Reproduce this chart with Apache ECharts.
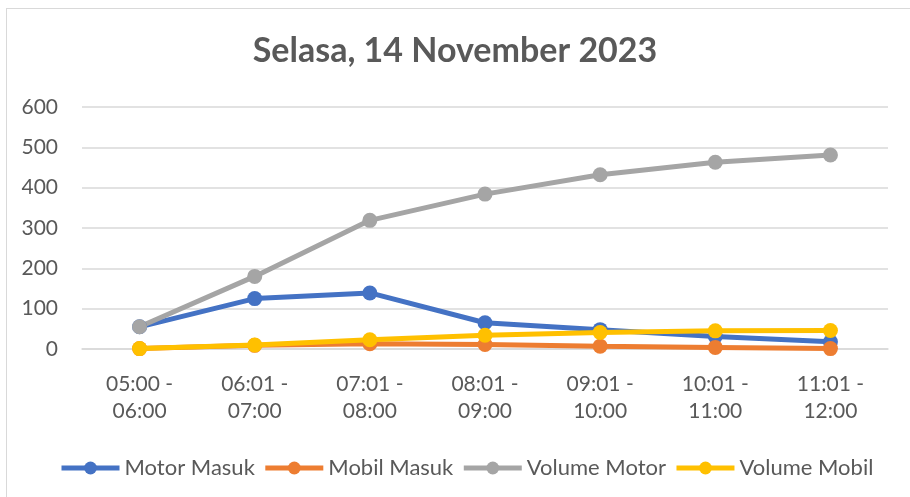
<!DOCTYPE html>
<html><head><meta charset="utf-8">
<script src="https://cdn.jsdelivr.net/npm/echarts@6/dist/echarts.min.js"></script>
<style>
html,body{margin:0;padding:0;background:#fff;overflow:hidden;}
#frame{position:absolute;left:6px;top:8px;width:920px;height:520px;border:1px solid #d9d9d9;box-sizing:border-box;}
#chart{position:absolute;left:0;top:0;width:910px;height:497px;}
</style></head>
<body>
<div id="frame"></div>
<div id="chart"></div>
<script>
var categories = ["05:00 -\n06:00","06:01 -\n07:00","07:01 -\n08:00","08:01 -\n09:00","09:01 -\n10:00","10:01 -\n11:00","11:01 -\n12:00"];
var motorMasuk = [55, 125, 139, 65, 48, 31, 18];
var mobilMasuk = [1, 9, 13, 11, 7, 4, 1];
var volumeMotor = [55, 180, 319, 384, 432, 463, 481];
var volumeMobil = [1, 10, 23, 34, 41, 45, 46];
var seriesNames = ["Motor Masuk","Mobil Masuk","Volume Motor","Volume Mobil"];
var colors = ["#4472C4","#ED7D31","#A5A5A5","#FFC000"];
var yTicks = {min:0, max:600, interval:100};

var chart = echarts.init(document.getElementById('chart'), null, {renderer:'canvas'});
var dataSets = [motorMasuk, mobilMasuk, volumeMotor, volumeMobil];
var series = dataSets.map(function(d,i){
  return {
    name: seriesNames[i], type:'line', data:d,
    symbol:'circle', symbolSize:15,
    lineStyle:{width:5, color:colors[i]},
    itemStyle:{color:colors[i]},
    z: 2 + (i===3?2:(i===1?1:0))
  };
});
chart.setOption({
  animation:false,
  color: colors,
  title:{text:'Selasa, 14 November 2023', left:'center', top:29,
    textStyle:{fontFamily:'Lato', fontWeight:'bold', fontSize:34, color:'#595959'}},
  legend:{left:54, top:452, itemWidth:58, itemHeight:16, itemGap:8,
    lineStyle:{width:5},
    textStyle:{fontFamily:'Lato', fontSize:22, color:'#595959'},
    data: seriesNames},
  grid:{left:82, right:22, top:107, bottom:148, containLabel:false},
  xAxis:{type:'category', data:categories, boundaryGap:true,
    axisLine:{show:true, lineStyle:{color:'#d9d9d9', width:1.5}},
    axisTick:{show:false},
    axisLabel:{fontFamily:'Lato', fontSize:21, color:'#595959', lineHeight:27, margin:22}},
  yAxis:{type:'value', min:yTicks.min, max:yTicks.max, interval:yTicks.interval,
    axisLine:{show:false}, axisTick:{show:false},
    splitLine:{lineStyle:{color:'#d9d9d9', width:1.5}},
    axisLabel:{fontFamily:'Lato', fontSize:21, color:'#595959', margin:24}},
  series: series
});
</script>
</body></html>
